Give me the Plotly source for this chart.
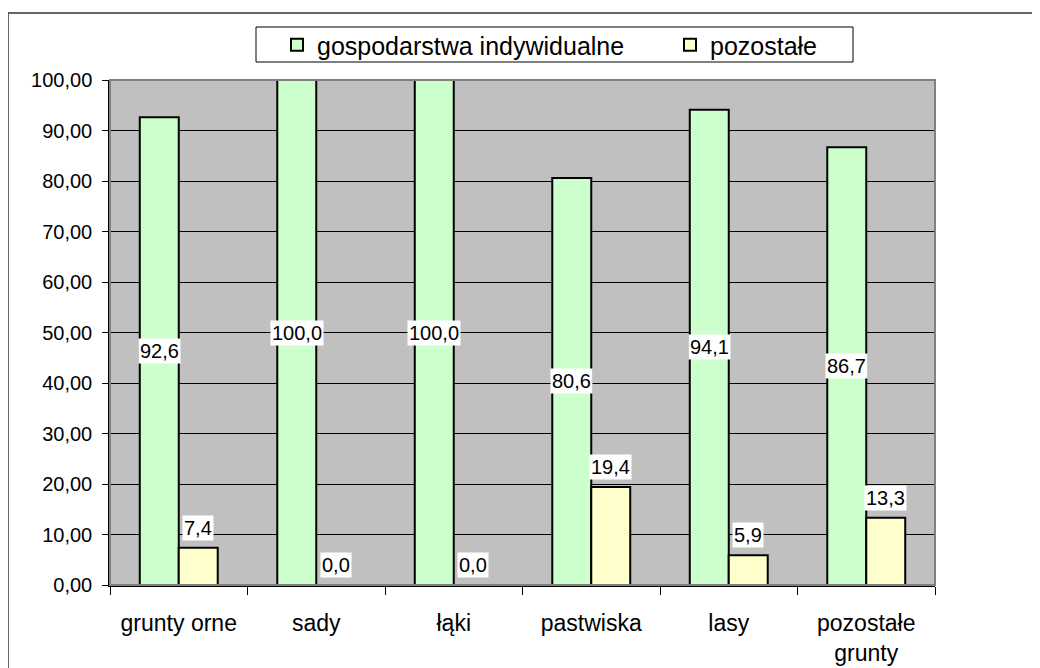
import plotly.graph_objects as go

# land use categories and shares (%)
categories = ["grunty orne", "sady", "łąki", "pastwiska", "lasy", "pozostałe<br>grunty"]
individual = [92.6, 100.0, 100.0, 80.6, 94.1, 86.7]
others = [7.4, 0.0, 0.0, 19.4, 5.9, 13.3]
series_names = ["gospodarstwa indywidualne", "pozostałe"]

FONT = "Arial, Liberation Sans, sans-serif"
BARGAP = 0.433
# page body has an 8px margin, so the figure is laid out in shifted coordinates
PAGE = 8
W, H = 1040 - PAGE, 668 - PAGE
L, T = 110 - PAGE, 80 - PAGE
R, B = W - (935 - PAGE), H - (585 - PAGE)
pw, ph = W - L - R, H - T - B


def px_x(p):
    # screen x pixel -> paper coordinate
    return (p - PAGE - L) / pw


def px_y(p):
    # screen y pixel -> paper coordinate
    return (H - B - (p - PAGE)) / ph


fig = go.Figure()
fig.add_trace(go.Bar(
    x=categories, y=individual, name=series_names[0], legend="legend",
    marker=dict(color="#CCFFCC", line=dict(color="black", width=2)),
))
fig.add_trace(go.Bar(
    x=categories, y=others, name=series_names[1], legend="legend2",
    marker=dict(color="#FFFFCC", line=dict(color="black", width=2)),
))

# value labels with white boxes
off = (1 - BARGAP) / 4
annotations = []
for i, v in enumerate(individual):
    annotations.append(dict(
        x=i - off, y=v / 2, xref="x", yref="y", text=f"{v:.1f}".replace(".", ","),
        showarrow=False, bgcolor="white", borderpad=1,
        font=dict(family=FONT, size=20, color="black"),
    ))
for i, v in enumerate(others):
    annotations.append(dict(
        x=i + off, y=v, xref="x", yref="y", text=f"{v:.1f}".replace(".", ","),
        showarrow=False, bgcolor="white", borderpad=1, yanchor="bottom", yshift=7,
        font=dict(family=FONT, size=20, color="black"),
    ))

shapes = [
    # outer chart border
    dict(type="rect", xref="paper", yref="paper",
         x0=px_x(8), x1=px_x(1060), y0=px_y(690), y1=px_y(13),
         line=dict(color="#333333", width=1.5), layer="below"),
    # plot area frame
    dict(type="rect", xref="paper", yref="paper", x0=0, x1=1, y0=0, y1=1,
         line=dict(color="#808080", width=2), layer="above"),
    # legend box
    dict(type="rect", xref="paper", yref="paper",
         x0=px_x(256), x1=px_x(853), y0=px_y(62), y1=px_y(27),
         line=dict(color="black", width=1), fillcolor="white", layer="above"),
]

legend_style = dict(
    orientation="h", xanchor="left", yanchor="middle",
    bgcolor="rgba(0,0,0,0)", borderwidth=0,
    font=dict(family=FONT, size=25, color="black"),
)

fig.update_layout(
    width=W, height=H,
    margin=dict(l=L, r=R, t=T, b=B, autoexpand=False),
    paper_bgcolor="white", plot_bgcolor="#C0C0C0",
    separators=",.",
    barmode="group", bargap=BARGAP, bargroupgap=0,
    font=dict(family=FONT, color="black"),
    showlegend=True,
    legend=dict(legend_style, x=px_x(277), y=px_y(45)),
    legend2=dict(legend_style, x=px_x(670), y=px_y(45)),
    xaxis=dict(
        showline=True, linecolor="black", linewidth=1.5,
        ticks="outside", ticklen=8, tickcolor="black", tickson="boundaries",
        tickfont=dict(family=FONT, size=23, color="black"),
        ticklabelstandoff=17,
        showgrid=False,
    ),
    yaxis=dict(
        range=[0, 100], dtick=10, tickformat=".2f",
        showline=True, linecolor="black", linewidth=1.5,
        ticks="outside", ticklen=6, tickcolor="black",
        tickfont=dict(family=FONT, size=20, color="black"),
        ticklabelstandoff=6,
        showgrid=True, gridcolor="black", gridwidth=1,
        zeroline=False,
    ),
    annotations=annotations,
    shapes=shapes,
)

fig.write_html("out.html", config={"displayModeBar": False})
